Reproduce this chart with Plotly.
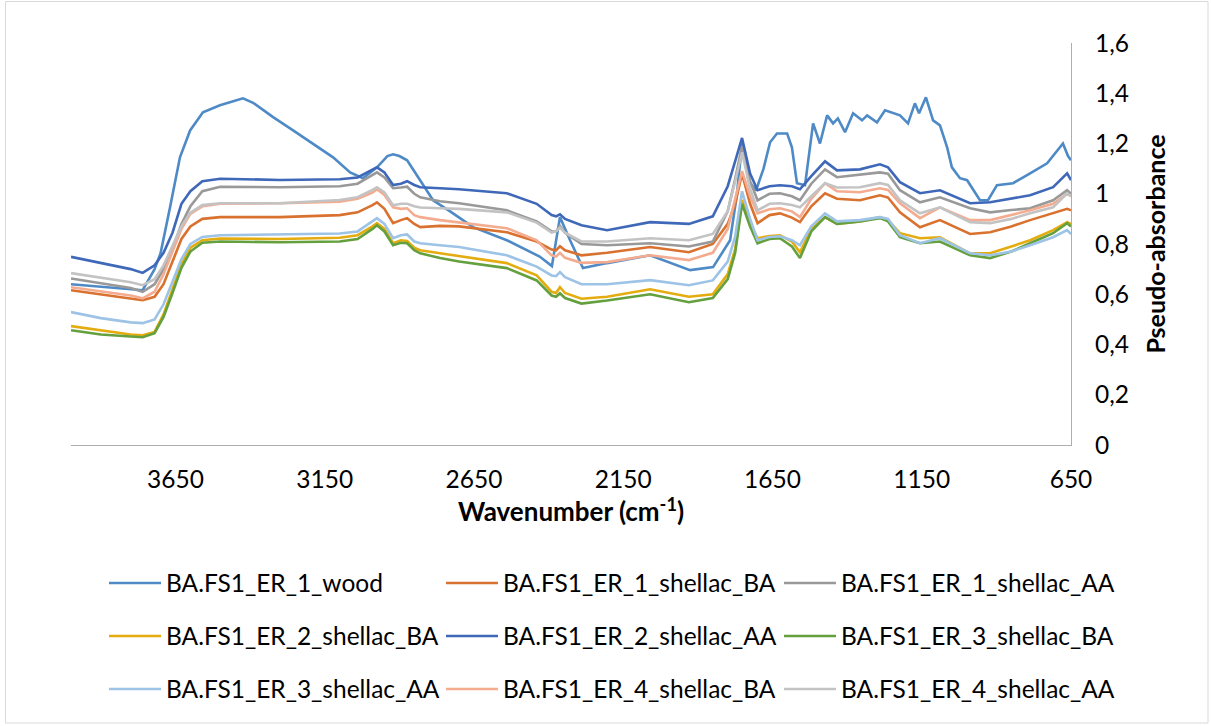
import plotly.graph_objects as go

# ---------------- data ----------------
SERIES_NAMES = [
    "BA.FS1_ER_1_wood", "BA.FS1_ER_1_shellac_BA", "BA.FS1_ER_1_shellac_AA",
    "BA.FS1_ER_2_shellac_BA", "BA.FS1_ER_2_shellac_AA", "BA.FS1_ER_3_shellac_BA",
    "BA.FS1_ER_3_shellac_AA", "BA.FS1_ER_4_shellac_BA", "BA.FS1_ER_4_shellac_AA",
]
COLORS = ["#4E8AC6", "#D9712F", "#999999", "#E5AC10", "#3F68B8", "#64A03E",
          "#9DC3E6", "#F4AC90", "#C3C3C3"]

X_TICKS = [3650, 3150, 2650, 2150, 1650, 1150, 650]

WOOD_WN = [4000, 3900, 3800, 3760, 3720, 3700, 3668, 3635, 3601, 3558, 3501, 3450,
           3424, 3390, 3323, 3256, 3189, 3122, 3065, 3022, 2975, 2940, 2921, 2900,
           2874, 2831, 2787, 2730, 2653, 2540, 2430, 2389, 2362, 2330, 2285, 2204,
           2060, 1926, 1849, 1792, 1770, 1752, 1730, 1705, 1680, 1658, 1635, 1601,
           1585, 1568, 1541, 1514, 1491, 1467, 1447, 1431, 1407, 1380, 1350, 1333,
           1300, 1273, 1223, 1196, 1173, 1159, 1136, 1112, 1089, 1065, 1049, 1022,
           998, 955, 928, 898, 844, 787, 730, 677, 660, 650]
WOOD = [0.640, 0.630, 0.620, 0.616, 0.700, 0.763, 0.947, 1.145, 1.252, 1.324, 1.352, 1.370,
        1.380, 1.362, 1.305, 1.252, 1.200, 1.145, 1.085, 1.062, 1.105, 1.150, 1.157, 1.150,
        1.133, 1.054, 0.974, 0.930, 0.867, 0.815, 0.750, 0.712, 0.907, 0.820, 0.704, 0.724,
        0.755, 0.696, 0.708, 0.815, 0.990, 1.200, 1.050, 1.014, 1.100, 1.205, 1.240, 1.240,
        1.185, 1.042, 1.034, 1.280, 1.200, 1.312, 1.280, 1.300, 1.245, 1.320, 1.292, 1.312,
        1.284, 1.332, 1.312, 1.280, 1.360, 1.320, 1.384, 1.292, 1.272, 1.185, 1.105, 1.062,
        1.054, 0.974, 0.974, 1.034, 1.042, 1.081, 1.121, 1.200, 1.150, 1.133]

SHELLAC_WN = [4000, 3900, 3800, 3760, 3720, 3690, 3660, 3630, 3600, 3560, 3500, 3300,
              3100, 3040, 2990, 2975, 2950, 2921, 2895, 2874, 2850, 2830, 2764, 2700,
              2540, 2440, 2390, 2375, 2362, 2345, 2290, 2204, 2060, 1930, 1850, 1800,
              1775, 1752, 1725, 1700, 1660, 1625, 1585, 1558, 1520, 1474, 1434, 1357,
              1290, 1263, 1223, 1156, 1089, 988, 921, 850, 787, 710, 663, 650]

ER1_BA = [0.616, 0.600, 0.585, 0.576, 0.590, 0.640, 0.730, 0.820, 0.870, 0.900, 0.907, 0.907,
          0.915, 0.926, 0.955, 0.966, 0.940, 0.883, 0.895, 0.903, 0.880, 0.867, 0.872, 0.870,
          0.847, 0.810, 0.778, 0.775, 0.791, 0.775, 0.755, 0.765, 0.788, 0.767, 0.800, 0.880,
          0.960, 1.080, 0.960, 0.883, 0.915, 0.922, 0.905, 0.887, 0.950, 1.002, 0.980, 0.974,
          0.994, 0.985, 0.926, 0.867, 0.895, 0.840, 0.847, 0.870, 0.895, 0.922, 0.940, 0.934]
ER1_AA = [0.663, 0.645, 0.625, 0.610, 0.640, 0.700, 0.780, 0.880, 0.950, 1.010, 1.028, 1.026,
          1.030, 1.040, 1.075, 1.085, 1.065, 1.022, 1.025, 1.028, 1.000, 0.986, 0.970, 0.962,
          0.934, 0.890, 0.850, 0.850, 0.872, 0.845, 0.800, 0.795, 0.803, 0.790, 0.810, 0.930,
          1.060, 1.190, 1.050, 0.974, 1.000, 1.002, 0.990, 0.974, 1.040, 1.097, 1.066, 1.075,
          1.085, 1.080, 1.014, 0.966, 0.986, 0.942, 0.926, 0.935, 0.942, 0.974, 1.014, 1.000]
ER2_BA = [0.473, 0.455, 0.440, 0.437, 0.450, 0.520, 0.620, 0.720, 0.785, 0.815, 0.822, 0.820,
          0.825, 0.835, 0.870, 0.883, 0.860, 0.803, 0.815, 0.812, 0.785, 0.775, 0.763, 0.752,
          0.724, 0.675, 0.610, 0.605, 0.628, 0.605, 0.582, 0.590, 0.620, 0.590, 0.600, 0.680,
          0.780, 0.975, 0.880, 0.823, 0.832, 0.835, 0.810, 0.767, 0.860, 0.907, 0.880, 0.890,
          0.907, 0.895, 0.843, 0.823, 0.827, 0.763, 0.763, 0.790, 0.815, 0.855, 0.887, 0.880]
ER2_AA = [0.749, 0.725, 0.700, 0.685, 0.715, 0.765, 0.845, 0.960, 1.010, 1.050, 1.060, 1.055,
          1.058, 1.065, 1.095, 1.105, 1.085, 1.035, 1.040, 1.050, 1.035, 1.026, 1.022, 1.018,
          1.002, 0.960, 0.915, 0.910, 0.918, 0.900, 0.875, 0.855, 0.887, 0.880, 0.910, 1.030,
          1.130, 1.222, 1.080, 1.014, 1.030, 1.034, 1.030, 1.018, 1.070, 1.129, 1.093, 1.097,
          1.117, 1.105, 1.046, 1.002, 1.014, 0.962, 0.966, 0.980, 0.994, 1.026, 1.081, 1.054]
ER3_BA = [0.457, 0.440, 0.432, 0.429, 0.445, 0.510, 0.605, 0.705, 0.770, 0.805, 0.810, 0.807,
          0.810, 0.820, 0.860, 0.875, 0.850, 0.795, 0.805, 0.803, 0.775, 0.763, 0.744, 0.730,
          0.704, 0.655, 0.595, 0.590, 0.604, 0.585, 0.563, 0.575, 0.600, 0.568, 0.585, 0.660,
          0.765, 0.960, 0.870, 0.803, 0.820, 0.823, 0.790, 0.744, 0.850, 0.907, 0.880, 0.890,
          0.903, 0.890, 0.827, 0.803, 0.810, 0.755, 0.744, 0.770, 0.803, 0.843, 0.883, 0.870]
ER3_AA = [0.529, 0.505, 0.488, 0.485, 0.500, 0.560, 0.650, 0.740, 0.800, 0.828, 0.835, 0.839,
          0.842, 0.850, 0.890, 0.903, 0.880, 0.823, 0.835, 0.838, 0.810, 0.803, 0.795, 0.788,
          0.755, 0.710, 0.675, 0.672, 0.688, 0.668, 0.640, 0.640, 0.656, 0.636, 0.655, 0.730,
          0.830, 1.010, 0.900, 0.815, 0.828, 0.831, 0.815, 0.795, 0.870, 0.922, 0.890, 0.895,
          0.907, 0.900, 0.835, 0.803, 0.823, 0.763, 0.755, 0.770, 0.795, 0.827, 0.855, 0.840]
ER4_BA = [0.628, 0.610, 0.595, 0.584, 0.610, 0.680, 0.770, 0.860, 0.920, 0.950, 0.960, 0.962,
          0.968, 0.980, 1.005, 1.018, 0.995, 0.946, 0.940, 0.942, 0.915, 0.907, 0.895, 0.885,
          0.863, 0.815, 0.755, 0.750, 0.765, 0.745, 0.725, 0.728, 0.755, 0.736, 0.765, 0.860,
          0.980, 1.090, 0.990, 0.922, 0.938, 0.942, 0.930, 0.907, 0.980, 1.042, 1.010, 1.006,
          1.022, 1.015, 0.962, 0.903, 0.946, 0.895, 0.895, 0.915, 0.934, 0.960, 1.000, 0.990]
ER4_AA = [0.684, 0.665, 0.648, 0.636, 0.660, 0.715, 0.790, 0.870, 0.925, 0.955, 0.962, 0.962,
          0.975, 0.986, 1.015, 1.026, 1.005, 0.954, 0.960, 0.960, 0.950, 0.945, 0.942, 0.940,
          0.926, 0.885, 0.845, 0.850, 0.865, 0.845, 0.810, 0.810, 0.823, 0.815, 0.840, 0.930,
          1.050, 1.165, 1.020, 0.934, 0.960, 0.962, 0.955, 0.946, 0.990, 1.042, 1.025, 1.026,
          1.042, 1.035, 0.974, 0.922, 0.946, 0.887, 0.883, 0.900, 0.922, 0.946, 1.002, 0.990]

SHELLAC_SERIES = [ER1_BA, ER1_AA, ER2_BA, ER2_AA, ER3_BA, ER3_AA, ER4_BA, ER4_AA]

# ---------------- figure ----------------
W, H = 1211, 726
L, R, T, B = 71, 140, 43, 281
PW, PH = W - L - R, H - T - B

FONT = "Lato, 'Open Sans', sans-serif"

def py(px):
    return (H - B - px) / PH

def pxx(px):
    return (px - L) / PW

fig = go.Figure()
xs_all = [WOOD_WN] + [SHELLAC_WN] * 8
ys_all = [WOOD] + SHELLAC_SERIES
legend_ids = ["legend"] + ["legend%d" % k for k in range(2, 10)]
for i, (name, col, xs, ys) in enumerate(zip(SERIES_NAMES, COLORS, xs_all, ys_all)):
    fig.add_trace(go.Scatter(
        x=xs, y=ys, mode="lines", name=name,
        line=dict(color=col, width=2.6),
        legend=legend_ids[i], showlegend=True,
    ))

row_y = [583, 636, 689]
col_x = [104, 441, 779]
leg_common = dict(
    orientation="h", xanchor="left", yanchor="middle", itemwidth=52,
    font=dict(family=FONT, size=24.5, color="#000000"),
    bgcolor="rgba(0,0,0,0)", borderwidth=0,
)
legend_layout = {}
for i, lid in enumerate(legend_ids):
    legend_layout[lid] = dict(x=pxx(col_x[i % 3]), y=py(row_y[i // 3]), **leg_common)
fig.update_layout(**legend_layout)

fig.update_layout(
    width=W, height=H, showlegend=True,
    margin=dict(l=L, r=R, t=T, b=B, autoexpand=False),
    paper_bgcolor="white", plot_bgcolor="white",
    separators=", ",
    font=dict(family=FONT, size=24, color="#000000"),
    xaxis=dict(
        range=[4000, 650], autorange=False,
        tickmode="array", tickvals=X_TICKS,
        showgrid=False, zeroline=False,
        showline=True, linecolor="#ADADAD", linewidth=1.3,
        ticks="", ticklabelstandoff=12,
        tickfont=dict(family=FONT, size=24.5, color="#000000"),
        title=dict(text="<b>Wavenumber (cm<sup>-1</sup>)</b>", standoff=6,
                   font=dict(family=FONT, size=26, color="#000000")),
    ),
    yaxis=dict(
        range=[0, 1.6], autorange=False, dtick=0.2, tick0=0,
        side="right", showgrid=False, zeroline=False,
        showline=True, linecolor="#ADADAD", linewidth=1.3,
        ticks="", ticklabelstandoff=18,
        tickfont=dict(family=FONT, size=24.5, color="#000000"),
        title=dict(text="<b>Pseudo-absorbance</b>", standoff=19,
                   font=dict(family=FONT, size=25, color="#000000")),
    ),
    shapes=[dict(type="rect", xref="paper", yref="paper",
                 x0=pxx(5.5), x1=pxx(1208), y0=py(723), y1=py(1.5),
                 line=dict(color="#D9D9D9", width=1), fillcolor="rgba(0,0,0,0)")],
)

fig.write_html("out.html", config={"displayModeBar": False},
               post_script="document.body.style.margin='0';")
